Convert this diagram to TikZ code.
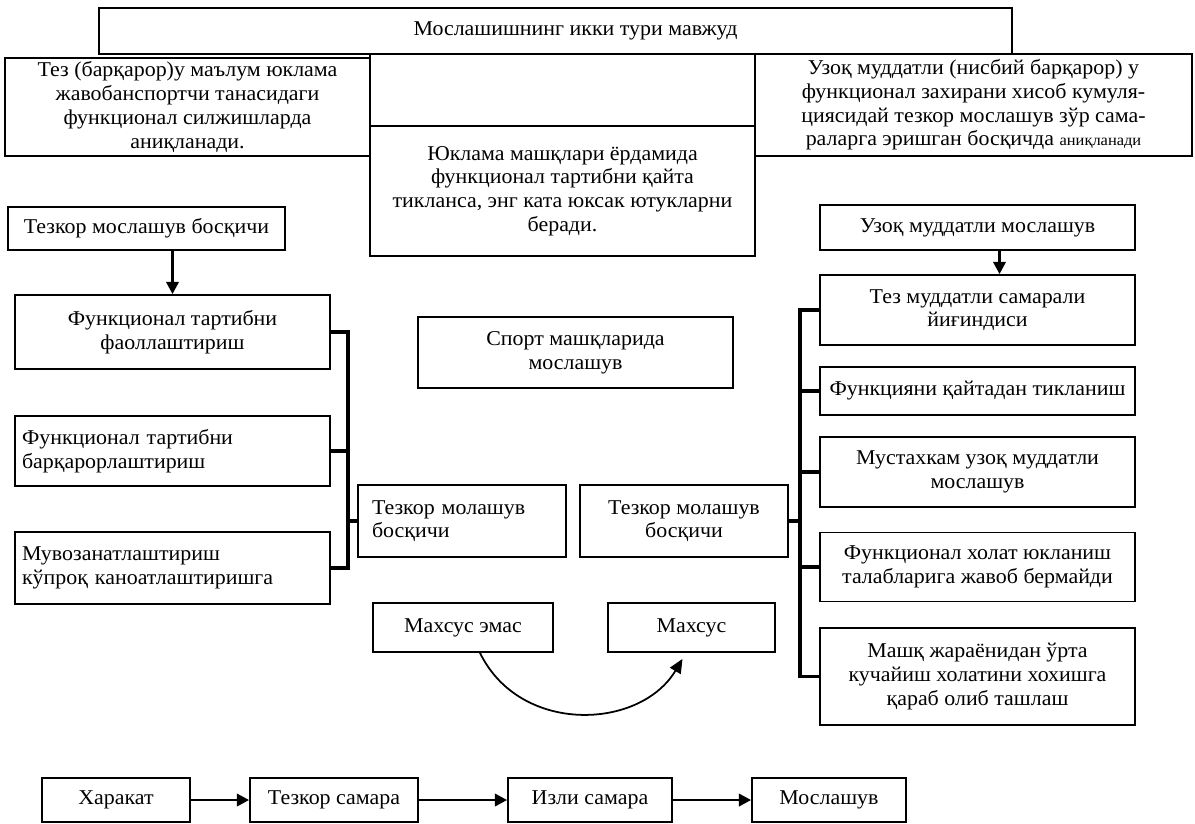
\documentclass[tikz,border=0pt]{standalone}
\usepackage{fontspec}
\setmainfont{Liberation Serif}[FakeStretch=1.04]
\usetikzlibrary{arrows.meta,calc}

\begin{document}
\begin{tikzpicture}[x=0.02cm,y=-0.02cm,
	box/.style={draw,line width=1pt,inner sep=0pt,align=center,font=\fontsize{12}{13.5}\selectfont},
	lbox/.style={box,align=left},
	link/.style={line width=1.8pt},
	arr/.style={line width=1.6pt,-{Triangle[length=7pt,width=7pt]}}]
	\useasboundingbox (0,0) rectangle (1195,823);
	\node[box,minimum width=18.26cm,minimum height=0.92cm] (title) at (555.5,31) {\hspace*{0.8cm}Мослашишнинг икки тури мавжуд};
	\node[box,minimum width=7.3cm,minimum height=1.96cm] (fast) at (187.5,107) {Тез (барқарор)у маълум юклама\\жавобанспортчи танасидаги\\функционал силжишларда\\аниқланади.};
	\node[box,minimum width=7.7cm,minimum height=1.44cm] (blank) at (562.5,90) {};
	\node[box,minimum width=7.7cm,minimum height=2.6cm] (load) at (562.5,191) {Юклама машқлари ёрдамида\\функционал тартибни қайта\\тикланса, энг ката юксак ютукларни\\беради.};
	\node[box,minimum width=8.74cm,minimum height=2.04cm] (long) at (973.5,105) {Узоқ муддатли (нисбий барқарор) у\\функционал захирани хисоб кумуля-\\циясидай тезкор мослашув зўр сама-\\раларга эришган босқичда {\fontsize{9}{10}\selectfont аниқланади}};
	\node[box,minimum width=5.54cm,minimum height=0.86cm] (tzstage) at (146.5,228.5) {Тезкор мослашув босқичи};
	\node[box,minimum width=6.3cm,minimum height=0.9cm] (uzstage) at (977.5,227.5) {Узоқ муддатли мослашув};
	\node[box,minimum width=6.3cm,minimum height=1.48cm] (l1) at (172.5,332) {Функционал тартибни\\фаоллаштириш};
	\node[lbox,inner xsep=0.14cm,text width=6.02cm,minimum height=1.4cm] (l2) at (172.5,451) {Функционал тартибни\\барқарорлаштириш};
	\node[lbox,inner xsep=0.14cm,text width=6.02cm,minimum height=1.44cm] (l3) at (172.5,568) {Мувозанатлаштириш\\кўпроқ каноатлаштиришга};
	\node[box,minimum width=6.3cm,minimum height=1.42cm] (sport) at (575.5,352.5) {Спорт машқларида\\мослашув};
	\node[lbox,inner xsep=0.28cm,text width=3.6cm,minimum height=1.44cm] (midl) at (462,521) {Тезкор молашув\\босқичи};
	\node[box,minimum width=4.16cm,minimum height=1.44cm] (midr) at (684,521) {Тезкор молашув\\босқичи};
	\node[box,minimum width=6.3cm,minimum height=1.4cm] (r1) at (977.5,310) {Тез муддатли самарали\\йиғиндиси};
	\node[box,minimum width=6.3cm,minimum height=0.96cm] (r2) at (977.5,391) {Функцияни қайтадан тикланиш};
	\node[box,minimum width=6.3cm,minimum height=1.4cm] (r3) at (977.5,472) {Мустахкам узоқ муддатли\\мослашув};
	\node[box,minimum width=6.3cm,minimum height=1.38cm] (r4) at (977.5,567) {Функционал холат юкланиш\\талабларига жавоб бермайди};
	\node[box,minimum width=6.3cm,minimum height=1.94cm] (r5) at (977.5,676.5) {Машқ жараёнидан ўрта\\кучайиш холатини хохишга\\қараб олиб ташлаш};
	\node[box,minimum width=3.6cm,minimum height=0.98cm] (nonspec) at (463,627.5) {Махсус эмас};
	\node[box,minimum width=3.34cm,minimum height=0.98cm] (spec) at (691.5,627.5) {Махсус};
	\node[box,minimum width=2.96cm,minimum height=0.88cm] (act) at (116,800) {Харакат};
	\node[box,minimum width=3.36cm,minimum height=0.88cm] (quick) at (334,800) {Тезкор самара};
	\node[box,minimum width=3.28cm,minimum height=0.88cm] (trace) at (590,800) {Изли самара};
	\node[box,minimum width=3.08cm,minimum height=0.88cm] (adapt) at (829,800) {Мослашув};
	\coordinate (lb) at (348,0);
	\coordinate (rb) at (800,0);
	\draw[arr] (tzstage.south -| l1.north) -- (l1.north);
	\draw[arr] ($(uzstage.south)+(22,0)$) -- ($(r1.north)+(22,0)$);
	\draw[link] (l1.east) -- (l1.east -| lb) -- (l3.east -| lb) -- (l3.east);
	\draw[link] (l2.east) -- (l2.east -| lb);
	\draw[link] (midl.west) -- (midl.west -| lb);
	\draw[link] (r1.west) -- (r1.west -| rb) -- (r5.west -| rb) -- (r5.west);
	\foreach \n in {r2,r3,r4} \draw[link] (\n.west) -- (\n.west -| rb);
	\draw[link] (midr.east) -- (midr.east -| rb);
	\draw[line width=1pt,-{Triangle[length=8pt,width=7pt]}] ($(nonspec.south)+(17,0)$) .. controls (520,735) and (640,730) .. ($(spec.south)+(-9,6)$);
	\draw[arr] (act.east) -- (quick.west);
	\draw[arr] (quick.east) -- (trace.west);
	\draw[arr] (trace.east) -- (adapt.west);
\end{tikzpicture}
\end{document}
